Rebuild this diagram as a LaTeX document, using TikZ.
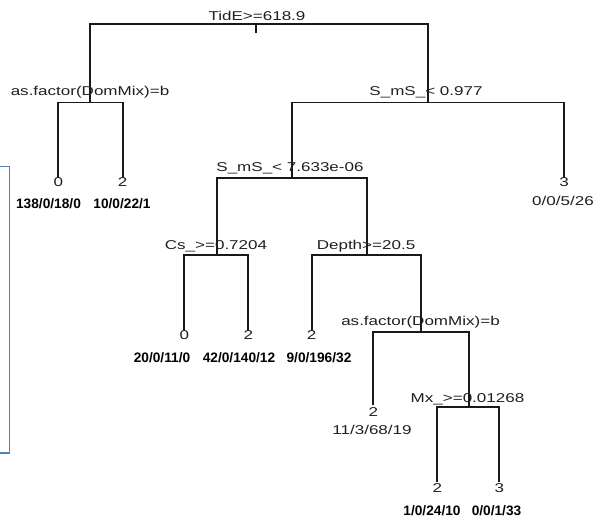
\documentclass[tikz,border=0pt]{standalone}
\usepackage{fontspec}
\newfontfamily\rfont[FakeStretch=1.33]{Liberation Sans}
\newfontfamily\cfont{Liberation Sans}
\definecolor{boxblue}{RGB}{79,129,189}
\begin{document}
\begin{tikzpicture}[x=1pt,y=-1pt]
\tikzset{
  edge/.style={draw=black!90, line width=1.7pt},
  splitlab/.style={font=\rfont\fontsize{12.8}{14}\selectfont, text=black!88, anchor=base, inner sep=0pt},
  countb/.style={font=\cfont\bfseries\fontsize{13.7}{15}\selectfont, text=black, anchor=base, inner sep=0pt},
  bluebox/.style={draw=boxblue, line width=1.4pt}
}
\useasboundingbox (0,0) rectangle (599,529);
% split points
\coordinate (root) at (256,24.3);
\coordinate (rt) at (256,33);
\coordinate (A) at (90,102.5);
\coordinate (B) at (428,102.5);
\coordinate (C) at (291.7,178);
\coordinate (D) at (216.7,255);
\coordinate (E) at (366.7,255);
\coordinate (F) at (421,331.7);
\coordinate (G) at (469.3,407.3);
% leaves
\coordinate (L1) at (58.3,178);
\coordinate (L2) at (122.7,178);
\coordinate (R3) at (564,178);
\coordinate (L3) at (184.3,331);
\coordinate (L4) at (248.3,331);
\coordinate (L5) at (311.7,331);
\coordinate (L6) at (373.3,405);
\coordinate (L7) at (437.3,482);
\coordinate (L8) at (499.3,482);
% connectors
\draw[edge] (A) |- (root);
\draw[edge] (B) |- (root);
\draw[edge] (root) -- (rt);
\draw[edge] (L1) |- (A);
\draw[edge] (L2) |- (A);
\draw[edge] (C) |- (B);
\draw[edge] (R3) |- (B);
\draw[edge] (D) |- (C);
\draw[edge] (E) |- (C);
\draw[edge] (L3) |- (D);
\draw[edge] (L4) |- (D);
\draw[edge] (L5) |- (E);
\draw[edge] (F) |- (E);
\draw[edge] (L6) |- (F);
\draw[edge] (G) |- (F);
\draw[edge] (L7) |- (G);
\draw[edge] (L8) |- (G);
% split labels
\node[splitlab] (tr) at (257,20.5) {TidE>=618.9};
\node[splitlab] (tA) at (90,96) {as.factor(DomMix)=b};
\node[splitlab] (tB) at (426,96) {S\_mS\_< 0.977};
\node[splitlab] (tC) at (290,172) {S\_mS\_< 7.633e-06};
\node[splitlab] (tD) at (216,249) {Cs\_>=0.7204};
\node[splitlab] (tE) at (366,249) {Depth>=20.5};
\node[splitlab] (tF) at (420.5,325.5) {as.factor(DomMix)=b};
\node[splitlab] (tG) at (467.5,402) {Mx\_>=0.01268};
% leaf classes
\node[splitlab] (c1) at (58.3,187) {0};
\node[splitlab] (c2) at (122.7,187) {2};
\node[splitlab] (c3) at (564,187) {3};
\node[splitlab] (c4) at (184.3,339) {0};
\node[splitlab] (c5) at (248.3,339) {2};
\node[splitlab] (c6) at (311.7,339) {2};
\node[splitlab] (c7) at (373.3,416) {2};
\node[splitlab] (c8) at (437.3,492) {2};
\node[splitlab] (c9) at (499.3,492) {3};
% counts
\node[countb] (n1) at (48.5,209) {138/0/18/0};
\node[countb] (n2) at (122,209) {10/0/22/1};
\node[splitlab] (n3) at (563,206) {0/0/5/26};
\node[countb] (n4) at (162,362) {20/0/11/0};
\node[countb] (n5) at (239,362) {42/0/140/12};
\node[countb] (n6) at (319,362) {9/0/196/32};
\node[splitlab] (n7) at (372,434) {11/3/68/19};
\node[countb] (n8) at (432,515) {1/0/24/10};
\node[countb] (n9) at (496.5,515) {0/0/1/33};
% blue box edge
\coordinate (bb1) at (0,166.7);
\coordinate (bb2) at (9.3,166.7);
\coordinate (bb3) at (9.3,453);
\coordinate (bb4) at (0,453);
\draw[bluebox] (bb1) -- (bb2) -- (bb3) -- (bb4);
\end{tikzpicture}
\end{document}
